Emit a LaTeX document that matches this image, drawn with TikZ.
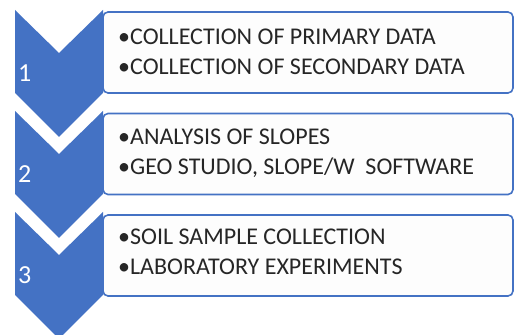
\documentclass[tikz,border=0pt]{standalone}
\usepackage{fontspec}
\setmainfont{Carlito}
\definecolor{chevblue}{HTML}{4472C4}
\definecolor{boxfill}{HTML}{FDFDFD}
\begin{document}
\begin{tikzpicture}[x=1pt,y=1pt,
  stepbox/.style={draw=chevblue, line width=1.6pt, fill=boxfill, rounded corners=5pt},
  chev/.style={fill=chevblue},
  numlabel/.style={text=white, font=\fontsize{26}{30}\selectfont, anchor=base west, inner sep=0pt},
  itemtext/.style={font=\fontsize{24}{30}\selectfont, anchor=base west, align=left, inner sep=0pt, text=black!85}]
\useasboundingbox (0,0) rectangle (515,335);
\begin{scope}
\clip (0,0) rectangle (515,335);
\foreach \i/\t in {1/12, 2/113.5, 3/215}{
  \draw[stepbox] (103,335-\t) rectangle (513,335-\t-81);
}
\foreach \i/\t in {1/10, 2/111, 3/212}{
  \fill[chev] (15,335-\t) -- (59,335-\t-43) -- (103,335-\t) -- (103,335-\t-83)
     -- (59,335-\t-127) -- (15,335-\t-83) -- cycle;
}
\end{scope}
\node[numlabel] (n1) at (18,335-82) {1};
\node[numlabel] (n2) at (18,335-183) {2};
\node[numlabel] (n3) at (18,335-284) {3};
\node[itemtext] (t1) at (118,335-75) {•COLLECTION OF PRIMARY DATA\\•COLLECTION OF SECONDARY DATA};
\node[itemtext] (t2) at (118,335-175) {•ANALYSIS OF SLOPES\\•GEO STUDIO, SLOPE/W\ \ SOFTWARE};
\node[itemtext] (t3) at (118,335-275) {•SOIL SAMPLE COLLECTION\\•LABORATORY EXPERIMENTS};
\end{tikzpicture}
\end{document}
